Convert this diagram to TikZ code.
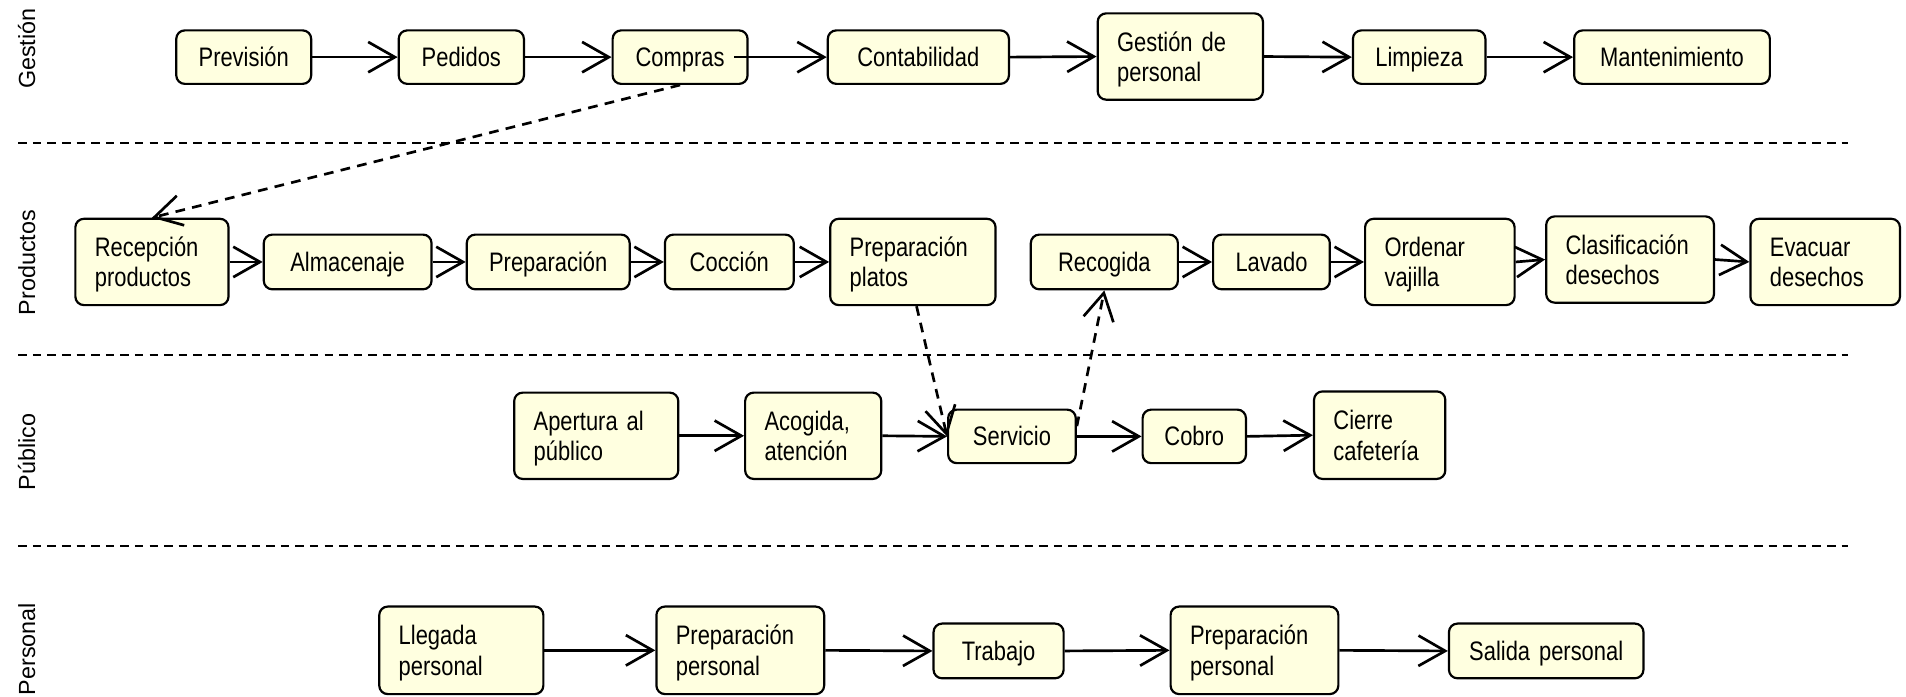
\documentclass[tikz,border=0pt]{standalone}
\usepackage{fontspec}
\setmainfont{Liberation Sans}
\newfontfamily\narrowfont[FakeStretch=0.82,WordSpace=0.8]{Liberation Sans}
\usetikzlibrary{arrows.meta,calc}
\definecolor{boxfill}{RGB}{255,255,224}
\tikzset{
  box/.style={draw=black, line width=0.9pt, fill=boxfill, rounded corners=3.5pt,
    inner xsep=8pt, inner ysep=0pt, align=left, text height=8pt, text depth=12.5pt,
    font={\narrowfont\fontsize{11}{12.5}\selectfont}},
  sbox/.style={box, align=center, text height=7.9pt, text depth=0pt},
  flow/.style={line width=1.1pt, -{Straight Barb[length=11pt,width=12.5pt,line width=1.1pt]}},
  dflow/.style={flow, dash pattern=on 4pt off 3pt},
  lane/.style={line width=0.8pt, dash pattern=on 3.5pt off 2.5pt},
  lanelabel/.style={rotate=90, font={\fontsize{9.6}{11}\selectfont}, inner sep=0pt}
}
\begin{document}
\begin{tikzpicture}[x=0.5pt,y=-0.5pt]
\useasboundingbox (0,0) rectangle (1568,573);

% lane labels
\node[lanelabel] (lg) at (22,40) {Gestión};
\node[lanelabel] (lp) at (22,216) {Productos};
\node[lanelabel] (lpu) at (22,372) {Público};
\node[lanelabel] (lpe) at (22,534) {Personal};

% separators
\coordinate (s1a) at (15,118); \coordinate (s1b) at (1520,118);
\coordinate (s2a) at (15,292); \coordinate (s2b) at (1520,292);
\coordinate (s3a) at (15,449); \coordinate (s3b) at (1520,449);
\draw[lane] (s1a) -- (s1b);
\draw[lane] (s2a) -- (s2b);
\draw[lane] (s3a) -- (s3b);

% Gestion
\node[sbox, text width=39.5pt, minimum height=22pt] (prev) at (200.5,47) {Previsión};
\node[sbox, text width=35.5pt, minimum height=22pt] (ped) at (379.5,47) {Pedidos};
\node[sbox, text width=39.5pt, minimum height=22pt] (comp) at (559.5,47) {Compras};
\node[sbox, text width=58.5pt, minimum height=22pt] (cont) at (755.5,47) {Contabilidad};
\node[box, text width=52pt, minimum height=35.5pt] (gest) at (971,46.5) {Gestión de\\personal};
\node[sbox, text width=38.5pt, minimum height=22pt] (limp) at (1167.5,47) {Limpieza};
\node[sbox, text width=64.5pt, minimum height=22pt] (mant) at (1375.5,47) {Mantenimiento};

% Productos
\node[box, text width=47pt, minimum height=35.5pt] (recep) at (125,215.5) {Recepción\\productos};
\node[sbox, text width=53pt, minimum height=22.5pt] (alm) at (286,215.5) {Almacenaje};
\node[sbox, text width=51pt, minimum height=22.5pt] (prep) at (451,215.5) {Preparación};
\node[sbox, text width=37pt, minimum height=22.5pt] (cocc) at (600,215.5) {Cocción};
\node[box, text width=52pt, minimum height=35.5pt] (platos) at (751,215.5) {Preparación\\platos};
\node[sbox, text width=44.5pt, minimum height=22.5pt] (recog) at (908.5,215.5) {Recogida};
\node[sbox, text width=32pt, minimum height=22.5pt] (lav) at (1046,215.5) {Lavado};
\node[box, text width=45.5pt, minimum height=35.5pt] (ord) at (1184.5,215.5) {Ordenar\\vajilla};
\node[box, text width=53pt, minimum height=35.5pt] (clas) at (1341,213.5) {Clasificación\\desechos};
\node[box, text width=45.5pt, minimum height=35.5pt] (evac) at (1501.5,215.5) {Evacuar\\desechos};

% Publico
\node[box, text width=51.5pt, minimum height=35.5pt] (aper) at (490.5,358.5) {Apertura al\\público};
\node[box, text width=40pt, minimum height=35.5pt] (acog) at (669,358.5) {Acogida,\\atención};
\node[sbox, text width=36.5pt, minimum height=22pt] (serv) at (832.5,359) {Servicio};
\node[sbox, text width=26.5pt, minimum height=22pt] (cobro) at (982.5,359) {Cobro};
\node[box, text width=38pt, minimum height=36pt] (cierre) at (1135,358) {Cierre\\cafetería};

% Personal
\node[box, text width=51.5pt, minimum height=36pt] (lleg) at (379.5,535) {Llegada\\personal};
\node[box, text width=53pt, minimum height=36pt] (prp1) at (609,535) {Preparación\\personal};
\node[sbox, text width=37.5pt, minimum height=22.5pt] (trab) at (821.5,535.5) {Trabajo};
\node[box, text width=53pt, minimum height=36pt] (prp2) at (1032,535) {Preparación\\personal};
\node[sbox, text width=64pt, minimum height=22.5pt] (sal) at (1272,535.5) {Salida personal};

% flows Gestion
\draw[flow] (prev.east) -- (ped.west);
\draw[flow] (ped.east) -- (comp.west);
\draw[flow] ($(comp.east)+(-12,0)$) -- (cont.west);
\draw[flow] (cont.east) -- (gest.west);
\draw[flow] (gest.east) -- (limp.west);
\draw[flow] (limp.east) -- (mant.west);

% flows Productos
\draw[flow] (recep.east) -- (alm.west);
\draw[flow] (alm.east) -- (prep.west);
\draw[flow] (prep.east) -- (cocc.west);
\draw[flow] (cocc.east) -- (platos.west);
\draw[flow] (recog.east) -- (lav.west);
\draw[flow] (lav.east) -- (ord.west);
\draw[flow] (ord.east) -- (clas.west);
\draw[flow] (clas.east) -- (evac.west);

% flows Publico
\draw[flow] (aper.east) -- (acog.west);
\draw[flow] (acog.east) -- (serv.west);
\draw[flow] (serv.east) -- (cobro.west);
\draw[flow] (cobro.east) -- (cierre.west);

% flows Personal
\draw[flow] (lleg.east) -- (prp1.west);
\draw[flow] (prp1.east) -- (trab.west);
\draw[flow] (trab.east) -- (prp2.west);
\draw[flow] (prp2.east) -- (sal.west);

% dashed cross-lane flows
\draw[dflow] (comp.south) -- (recep.north);
\draw[dflow] ($(platos.south)+(3,0)$) -- (serv.west);
\draw[dflow] (serv.9) -- (recog.south);
\end{tikzpicture}
\end{document}
